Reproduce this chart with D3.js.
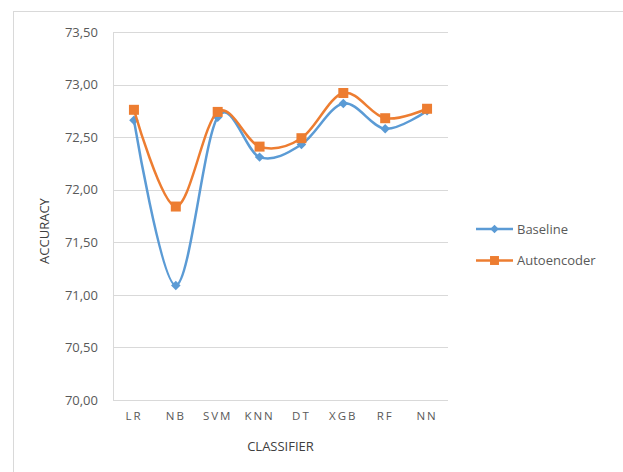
<!DOCTYPE html>
<html>
<head>
<meta charset="utf-8">
<script src="https://cdn.jsdelivr.net/npm/d3@7"></script>
<style>
  body { margin: 0; background: #fff; }
  text { font-family: "Open Sans", "Liberation Sans", sans-serif; fill: #595959; }
</style>
</head>
<body>
<div id="chart"></div>
<script>
const classifiers = ['LR', 'NB', 'SVM', 'KNN', 'DT', 'XGB', 'RF', 'NN'];
const baseline = [72.66, 71.09, 72.69, 72.31, 72.43, 72.82, 72.58, 72.75];
const autoencoder = [72.76, 71.84, 72.74, 72.41, 72.49, 72.92, 72.68, 72.77];
const yTicks = [70, 70.5, 71, 71.5, 72, 72.5, 73, 73.5];

const W = 623, H = 472;
const margin = { top: 32, left: 113, right: 175, bottom: 72 }; // plot area 113..448 x 32..400
const width = W - margin.left - margin.right,
      height = H - margin.top - margin.bottom;

const svg = d3.select('#chart').append('svg')
    .attr('width', W)
    .attr('height', H);

// Outer chart border
svg.append('rect')
    .attr('x', 13.5).attr('y', 11.5)
    .attr('width', W).attr('height', H)
    .attr('fill', 'none')
    .attr('stroke', '#d9d9d9');

const g = svg.append('g')
    .attr('transform', `translate(${margin.left},${margin.top})`);

const x = d3.scaleBand().domain(classifiers).range([0, width]);
const y = d3.scaleLinear().domain([70, 73.5]).range([height, 0]);

// Gridlines
g.append('g')
    .selectAll('line')
    .data(yTicks)
    .enter().append('line')
    .attr('x1', 0).attr('x2', width)
    .attr('y1', d => Math.round(y(d)) + 0.5)
    .attr('y2', d => Math.round(y(d)) + 0.5)
    .attr('stroke', '#d9d9d9');

// Left axis line
g.append('line')
    .attr('x1', 0.5).attr('x2', 0.5)
    .attr('y1', 0).attr('y2', height)
    .attr('stroke', '#d9d9d9');

// Y axis
const yAxis = g.append('g')
    .call(d3.axisLeft(y).tickValues(yTicks).tickSize(0).tickPadding(15)
        .tickFormat(d => d3.format('.2f')(d).replace('.', ',')));
yAxis.select('.domain').remove();
yAxis.selectAll('text')
    .style('font-size', '13px')
    .style('font-family', '"Open Sans", sans-serif')
    .attr('fill', '#595959');

// X axis
const xAxis = g.append('g')
    .attr('transform', `translate(0,${height})`)
    .call(d3.axisBottom(x).tickSize(0).tickPadding(12));
xAxis.select('.domain').remove();
xAxis.selectAll('text')
    .style('font-size', '11.5px')
    .style('letter-spacing', '2px')
    .style('font-family', '"Open Sans", sans-serif')
    .attr('fill', '#595959');

// Axis titles
g.append('text')
    .attr('x', width / 2)
    .attr('y', height + 51)
    .attr('text-anchor', 'middle')
    .style('font-size', '13px')
    .style('fill', '#404040')
    .text('CLASSIFIER');

g.append('text')
    .attr('transform', `translate(${-64},${height / 2 + 15}) rotate(-90)`)
    .attr('text-anchor', 'middle')
    .style('font-size', '13px')
    .style('fill', '#404040')
    .text('ACCURACY');

const series = [
    { name: 'Baseline', values: baseline, color: '#5B9BD5', symbol: d3.symbolSquare, size: 45, rotate: 45 },
    { name: 'Autoencoder', values: autoencoder, color: '#ED7D31', symbol: d3.symbolSquare, size: 100, rotate: 0 }
];

const line = d3.line()
    .x((d, i) => x(classifiers[i]) + x.bandwidth() / 2)
    .y(d => y(d))
    .curve(d3.curveCatmullRom.alpha(0));

series.forEach(s => {
    g.append('path')
        .datum(s.values)
        .attr('fill', 'none')
        .attr('stroke', s.color)
        .attr('stroke-width', 2.5)
        .attr('d', line);

    g.selectAll(null)
        .data(s.values)
        .enter().append('path')
        .attr('d', d3.symbol().type(s.symbol).size(s.size))
        .attr('transform', (d, i) => `translate(${x(classifiers[i]) + x.bandwidth() / 2},${y(d)}) rotate(${s.rotate})`)
        .attr('fill', s.color);
});

// Legend
const legend = svg.append('g').attr('transform', 'translate(476,229)');
series.forEach((s, i) => {
    const row = legend.append('g').attr('transform', `translate(0,${i * 31.5})`);
    row.append('line')
        .attr('x1', 0).attr('x2', 37)
        .attr('stroke', s.color)
        .attr('stroke-width', 2.5);
    row.append('path')
        .attr('d', d3.symbol().type(s.symbol).size(s.size * 0.8))
        .attr('transform', `translate(18.5,0) rotate(${s.rotate})`)
        .attr('fill', s.color);
    row.append('text')
        .attr('x', 41)
        .attr('dy', '0.35em')
        .style('font-size', '13px')
        .text(s.name);
});
</script>
</body>
</html>
